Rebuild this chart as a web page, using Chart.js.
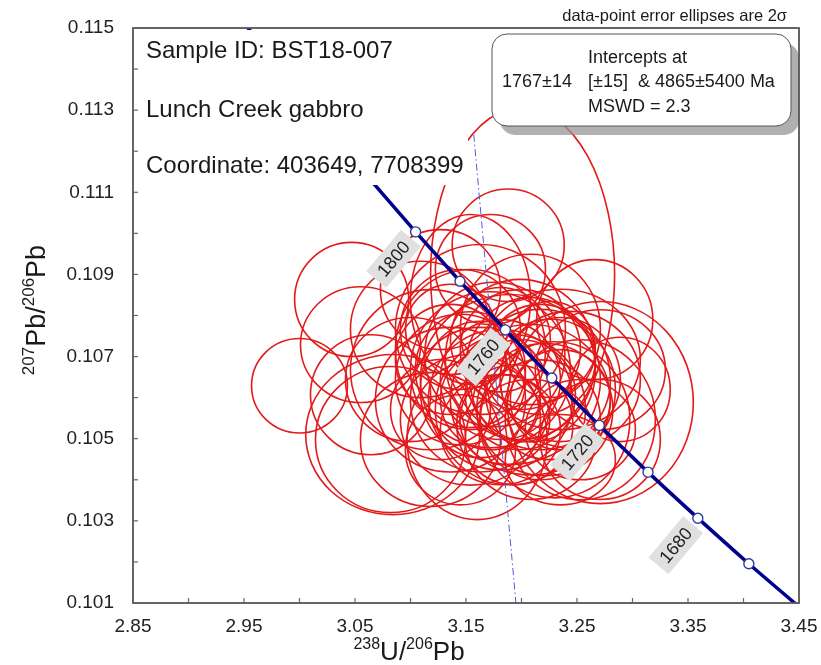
<!DOCTYPE html>
<html>
<head>
<meta charset="utf-8">
<script src="https://cdn.jsdelivr.net/npm/chart.js@4"></script>
<style>
  html, body { margin: 0; padding: 0; background: #fff; }
  #wrap { width: 821px; height: 665px; }
</style>
</head>
<body>
<div id="wrap"><canvas id="concordiaChart" width="821" height="665"></canvas></div>
<script>
// --- data ---
// error ellipse centres (238U/206Pb, 207Pb/206Pb) and 2-sigma half axes
const ellX  = [3.000, 3.047, 3.201, 3.084, 3.271, 3.266, 3.188, 3.055, 3.109, 3.160, 3.082, 3.118,
               3.253, 3.154, 3.217, 3.181, 3.145, 3.199, 3.235, 3.136, 3.163, 3.190, 3.217, 3.127,
               3.181, 3.208, 3.154, 3.100, 3.172, 3.235, 3.271, 3.289, 3.136, 3.208, 3.145, 3.226,
               3.185, 3.163, 3.064, 3.199, 3.271, 3.235, 3.127,
               3.172, 3.208, 3.154, 3.226, 3.181, 3.199, 3.244, 3.136, 3.217, 3.172, 3.253, 3.190,
               3.145, 3.230, 3.118,
               3.163, 3.208, 3.181, 3.221, 3.154, 3.194, 3.235, 3.176];
const ellY  = [0.10629, 0.10839, 0.10900, 0.10510, 0.10588, 0.10790, 0.10971, 0.10729, 0.10766, 0.10498,
               0.10498, 0.10498, 0.10546, 0.10839, 0.10644, 0.10644, 0.10644, 0.10693, 0.10693, 0.10693,
               0.10595, 0.10571, 0.10546, 0.10571, 0.10741, 0.10766, 0.10717, 0.10644, 0.10912, 0.10595,
               0.10668, 0.10620, 0.10766, 0.10498, 0.10473, 0.10717, 0.10546, 0.10766, 0.10607, 0.10607,
               0.10498, 0.10449, 0.10863,
               0.10668, 0.10595, 0.10546, 0.10620, 0.10522, 0.10717, 0.10644, 0.10595, 0.10693, 0.10595,
               0.10522, 0.10644, 0.10766, 0.10546, 0.10668,
               0.10620, 0.10668, 0.10595, 0.10571, 0.10668, 0.10534, 0.10644, 0.10705];
const ellSX = [0.0432, 0.0514, 0.0829, 0.0784, 0.0838, 0.0523, 0.0505, 0.0541, 0.0631, 0.0631, 0.0676,
               0.0631, 0.0676, 0.0541, 0.0631, 0.0541, 0.0586, 0.0676, 0.0721, 0.0496, 0.0631, 0.0676,
               0.0541, 0.0450, 0.0450, 0.0631, 0.0676, 0.0586, 0.0496, 0.0450, 0.0586, 0.0450, 0.0405,
               0.0586, 0.0496, 0.0405, 0.0405, 0.0766, 0.0541, 0.0496, 0.0541, 0.0496, 0.0541,
               0.0721, 0.0721, 0.0631, 0.0586, 0.0541, 0.0541, 0.0631, 0.0676, 0.0496, 0.0450, 0.0496,
               0.0811, 0.0541, 0.0676, 0.0721,
               0.0541, 0.0586, 0.0649, 0.0613, 0.0496, 0.0523, 0.0541, 0.0631];
const ellSY = [0.00115, 0.00139, 0.00407, 0.00195, 0.00246, 0.00146, 0.00137, 0.00141, 0.00166, 0.00195,
               0.00178, 0.00163, 0.00195, 0.00207, 0.00171, 0.00146, 0.00159, 0.00195, 0.00171, 0.00134,
               0.00176, 0.00183, 0.00146, 0.00122, 0.00127, 0.00183, 0.00195, 0.00151, 0.00134, 0.00122,
               0.00146, 0.00127, 0.00110, 0.00146, 0.00134, 0.00117, 0.00110, 0.00207, 0.00146, 0.00134,
               0.00146, 0.00110, 0.00146,
               0.00190, 0.00183, 0.00159, 0.00171, 0.00134, 0.00146, 0.00166, 0.00176, 0.00134, 0.00122,
               0.00122, 0.00207, 0.00146, 0.00190, 0.00195,
               0.00166, 0.00176, 0.00171, 0.00161, 0.00141, 0.00146, 0.00151, 0.00176];

// concordia ages (Ma)
const curveAges  = [1635, 1660, 1700, 1740, 1780, 1820, 1860, 1890];
const markerAges = [1660, 1680, 1700, 1720, 1740, 1760, 1780, 1800];
const labelAges  = [1680, 1720, 1760, 1800];

// discordia segment end points
const discordX = [3.157, 3.195];
const discordY = [0.1124, 0.1010];

const LAMBDA238 = 1.55125e-4; // per Ma
const LAMBDA235 = 9.8485e-4;
const U_RATIO = 137.88;

function concordiaPoint(t) {
    const e8 = Math.exp(LAMBDA238 * t) - 1;
    const e5 = Math.exp(LAMBDA235 * t) - 1;
    return { x: 1 / e8, y: e5 / e8 / U_RATIO };
}

const FONT = '"Liberation Sans", Arial, sans-serif';

// --- error ellipses, drawn under the concordia ---
const ellipsePlugin = {
    id: 'errorEllipses',
    beforeDatasetsDraw(chart) {
        const { ctx, chartArea: a, scales: { x, y } } = chart;
        ctx.save();
        ctx.beginPath();
        ctx.rect(a.left, a.top, a.right - a.left, a.bottom - a.top);
        ctx.clip();
        ctx.strokeStyle = '#e31a1a';
        ctx.lineWidth = 1.6;
        ellX.forEach((cx, i) => {
            const px = x.getPixelForValue(cx);
            const py = y.getPixelForValue(ellY[i]);
            const rx = Math.abs(x.getPixelForValue(cx + ellSX[i]) - px);
            const ry = Math.abs(y.getPixelForValue(ellY[i] + ellSY[i]) - py);
            ctx.beginPath();
            ctx.ellipse(px, py, rx, ry, 0, 0, Math.PI * 2);
            ctx.stroke();
        });
        ctx.restore();
    }
};

function roundRect(ctx, x, y, w, h, r) {
    ctx.beginPath();
    ctx.moveTo(x + r, y);
    ctx.arcTo(x + w, y, x + w, y + h, r);
    ctx.arcTo(x + w, y + h, x, y + h, r);
    ctx.arcTo(x, y + h, x, y, r);
    ctx.arcTo(x, y, x + w, y, r);
    ctx.closePath();
}

// draws "sup main sup main ..." pieces, returns width
function drawRich(ctx, parts, x, y, mainSize, supSize, measureOnly) {
    let cx = x;
    parts.forEach(p => {
        const size = p.sup ? supSize : mainSize;
        ctx.font = size + 'px ' + FONT;
        const w = ctx.measureText(p.t).width;
        if (!measureOnly) ctx.fillText(p.t, cx, p.sup ? y - mainSize * 0.42 : y);
        cx += w;
    });
    return cx - x;
}

// --- labels, text boxes, frame and inward ticks ---
const overlayPlugin = {
    id: 'overlay',
    afterDatasetsDraw(chart) {
        const { ctx, scales: { x, y } } = chart;
        // age labels along the concordia
        ctx.save();
        labelAges.forEach(age => {
            const p = concordiaPoint(age);
            const px = x.getPixelForValue(p.x) - 22;
            const py = y.getPixelForValue(p.y) + 27;
            ctx.save();
            ctx.translate(px, py);
            ctx.rotate(-50 * Math.PI / 180);
            ctx.fillStyle = '#e0e0e0';
            ctx.fillRect(-27, -13, 54, 26);
            ctx.fillStyle = '#222';
            ctx.font = '18px ' + FONT;
            ctx.textAlign = 'center';
            ctx.textBaseline = 'middle';
            ctx.fillText(String(age), 0, 1);
            ctx.restore();
        });
        ctx.restore();
    },
    afterDraw(chart) {
        const { ctx, chartArea: a, scales: { x, y } } = chart;
        ctx.save();

        // sample text block on white
        ctx.fillStyle = '#fff';
        ctx.fillRect(136, 30, 332, 155);
        ctx.fillStyle = '#1a1a1a';
        ctx.font = '24px ' + FONT;
        ctx.textBaseline = 'alphabetic';
        ctx.fillText('Sample ID: BST18-007', 146, 58);
        ctx.fillText('Lunch Creek gabbro', 146, 117);
        ctx.fillText('Coordinate: 403649, 7708399', 146, 173);

        // intercept box with shadow
        ctx.fillStyle = 'rgba(150,150,150,0.75)';
        roundRect(ctx, 500, 43, 299, 92, 15);
        ctx.fill();
        ctx.fillStyle = '#fff';
        roundRect(ctx, 492, 34, 299, 92, 15);
        ctx.fill();
        ctx.strokeStyle = '#555';
        ctx.lineWidth = 1;
        ctx.stroke();
        ctx.fillStyle = '#1a1a1a';
        ctx.font = '18px ' + FONT;
        ctx.fillText('Intercepts at', 588, 63);
        ctx.fillText('1767±14', 502, 87);
        ctx.fillText('[±15]  & 4865±5400 Ma', 588, 87);
        ctx.fillText('MSWD = 2.3', 588, 112);

        // note above the frame
        ctx.font = '16.5px ' + FONT;
        ctx.textAlign = 'right';
        ctx.fillText('data-point error ellipses are 2σ', 787, 21);
        ctx.textAlign = 'left';

        // frame
        ctx.strokeStyle = '#555';
        ctx.lineWidth = 1.8;
        ctx.strokeRect(a.left, a.top, a.right - a.left, a.bottom - a.top);

        // inward tick marks
        ctx.lineWidth = 1.2;
        ctx.strokeStyle = '#666';
        x.ticks.forEach(t => {
            const px = x.getPixelForValue(t.value);
            ctx.beginPath();
            ctx.moveTo(px, a.bottom);
            ctx.lineTo(px, a.bottom - 5);
            ctx.stroke();
        });
        y.ticks.forEach(t => {
            const py = y.getPixelForValue(t.value);
            ctx.beginPath();
            ctx.moveTo(a.left, py);
            ctx.lineTo(a.left + 5, py);
            ctx.stroke();
        });

        // axis titles with superscripts
        ctx.fillStyle = '#1a1a1a';
        const xParts = [{ t: '238', sup: true }, { t: 'U/' }, { t: '206', sup: true }, { t: 'Pb' }];
        const xw = drawRich(ctx, xParts, 0, 0, 26, 16, true);
        drawRich(ctx, xParts, 409 - xw / 2, 660, 26, 16, false);

        const yParts = [{ t: '207', sup: true }, { t: 'Pb/' }, { t: '206', sup: true }, { t: 'Pb' }];
        const yw = drawRich(ctx, yParts, 0, 0, 27, 17, true);
        ctx.translate(45, 310);
        ctx.rotate(-Math.PI / 2);
        drawRich(ctx, yParts, -yw / 2, 0, 27, 17, false);

        ctx.restore();
    }
};

function fixScaleSize(size, key) {
    return s => {
        s[key] = size;
        s.paddingLeft = 0;
        s.paddingRight = 0;
        s.paddingTop = 0;
        s.paddingBottom = 0;
    };
}

new Chart(document.getElementById('concordiaChart'), {
    type: 'scatter',
    data: {
        datasets: [
            {
                label: 'age markers',
                data: markerAges.map(concordiaPoint),
                showLine: false,
                pointRadius: 5,
                pointBackgroundColor: '#ffffff',
                pointBorderColor: '#2d3c9c',
                pointBorderWidth: 1.4
            },
            {
                label: 'concordia',
                data: curveAges.map(concordiaPoint),
                showLine: true,
                borderColor: '#00008c',
                borderWidth: 3.5,
                pointRadius: 0,
                tension: 0.2
            },
            {
                label: 'discordia',
                data: discordX.map((v, i) => ({ x: v, y: discordY[i] })),
                showLine: true,
                borderColor: '#4d5be0',
                borderWidth: 1,
                borderDash: [7, 3, 1.5, 3],
                pointRadius: 0
            }
        ]
    },
    options: {
        responsive: false,
        animation: false,
        devicePixelRatio: 1,
        layout: { padding: { top: 28, right: 22, left: 0, bottom: 0 } },
        plugins: {
            legend: { display: false },
            tooltip: { enabled: false }
        },
        scales: {
            x: {
                type: 'linear',
                min: 2.85,
                max: 3.45,
                grid: { display: false, drawTicks: false },
                border: { display: false },
                ticks: {
                    stepSize: 0.05,
                    autoSkip: false,
                    maxRotation: 0,
                    padding: 12,
                    color: '#222',
                    font: { family: FONT, size: 19 },
                    callback: v => Math.round(v * 100) % 10 === 5 ? v.toFixed(2) : ''
                },
                afterFit: fixScaleSize(62, 'height')
            },
            y: {
                type: 'linear',
                min: 0.101,
                max: 0.115,
                grid: { display: false, drawTicks: false },
                border: { display: false },
                ticks: {
                    stepSize: 0.001,
                    autoSkip: false,
                    padding: 19,
                    color: '#222',
                    font: { family: FONT, size: 19 },
                    callback: v => Math.round(v * 1000) % 2 === 1 ? v.toFixed(3) : ''
                },
                afterFit: fixScaleSize(133, 'width')
            }
        }
    },
    plugins: [ellipsePlugin, overlayPlugin]
});
</script>
</body>
</html>
